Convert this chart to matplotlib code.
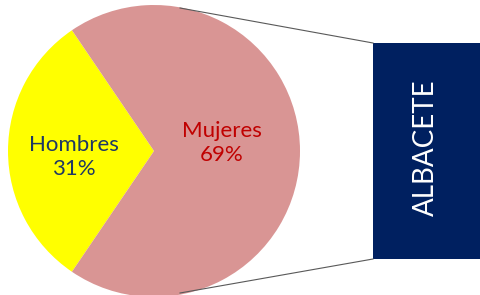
import matplotlib
matplotlib.use("Agg")
import matplotlib.pyplot as plt
from matplotlib.patches import Rectangle

plt.rcParams['font.family'] = ['Lato', 'DejaVu Sans']

categorias = ["Hombres", "Mujeres"]
porcentajes = [31, 69]
colores = ["#FFFF00", "#D99594"]
colores_texto = ["#1F3864", "#C00000"]
provincia = "ALBACETE"

fig = plt.figure(figsize=(4.8, 2.95), dpi=100)
ax = fig.add_axes([0, 0, 1, 1])

# tarta
centro = (154, 144)
radio = 146
inicio = 180 - porcentajes[0] * 3.6 / 2
ax.pie(porcentajes, colors=colores, startangle=inicio, center=centro,
       radius=radio, frame=True, wedgeprops=dict(linewidth=0))
ax.set_xlim(0, 480)
ax.set_ylim(0, 295)
ax.axis('off')

ax.text(74, 138, f"{categorias[0]}\n{porcentajes[0]}%", ha='center', va='center',
        color=colores_texto[0], fontsize=16, linespacing=1.25)
ax.text(222, 152, f"{categorias[1]}\n{porcentajes[1]}%", ha='center', va='center',
        color=colores_texto[1], fontsize=16, linespacing=1.25)

# caja con el nombre de la provincia
ax.add_patch(Rectangle((373, 36), 107, 216, facecolor="#002060", edgecolor='none'))
ax.text(426, 147, provincia, rotation=90, ha='center', va='center',
        color='white', fontsize=20)

# lineas de union
ax.plot([180, 373], [287, 252], color="#595959", lw=0.8)
ax.plot([180, 373], [2, 36], color="#595959", lw=0.8)

fig.savefig("out.png", dpi=100)
